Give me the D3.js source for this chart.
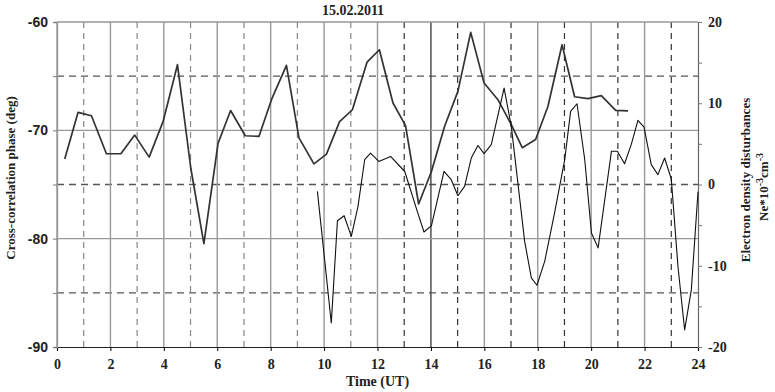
<!DOCTYPE html>
<html>
<head>
<meta charset="utf-8">
<script src="https://cdn.jsdelivr.net/npm/d3@7"></script>
<style>
body { margin: 0; background: #fff; }
text { font-family: "Liberation Serif", "Times New Roman", serif; font-weight: bold; }
</style>
</head>
<body>
<script>
// cross-correlation phase (left axis)
var phaseT = [0.29, 0.79, 1.29, 1.85, 2.39, 2.91, 3.45, 3.97, 4.51, 5.01, 5.5, 6.03, 6.5, 7.05, 7.56, 8.03, 8.59, 9.06, 9.62, 10.09, 10.58, 11.06, 11.61, 12.07, 12.58, 13.05, 13.54, 14.02, 14.51, 15.01, 15.49, 15.99, 16.51, 17.01, 17.42, 17.92, 18.38, 18.91, 19.38, 19.88, 20.38, 20.92, 21.38];
var phaseV = [-72.65, -68.34, -68.65, -72.16, -72.16, -70.44, -72.47, -69.2, -63.94, -73.5, -80.45, -71.2, -68.17, -70.5, -70.56, -67.17, -64.0, -70.7, -73.1, -72.2, -69.2, -68.1, -63.7, -62.56, -67.48, -69.57, -76.8, -73.8, -69.64, -66.4, -60.96, -65.63, -67.17, -69.48, -71.6, -70.85, -67.8, -62.1, -66.9, -67.08, -66.8, -68.16, -68.2];

// electron density disturbances (right axis)
var neT = [9.75, 10.27, 10.5, 10.75, 11.02, 11.27, 11.52, 11.74, 12.05, 12.49, 13.02, 13.49, 13.74, 14.02, 14.49, 14.76, 15.01, 15.26, 15.51, 15.76, 15.99, 16.26, 16.74, 17.01, 17.51, 17.76, 17.97, 18.26, 18.63, 19.01, 19.23, 19.47, 19.76, 20.01, 20.26, 20.76, 20.98, 21.25, 21.5, 21.75, 21.98, 22.25, 22.5, 22.75, 23.0, 23.25, 23.5, 23.75, 24.0];
var neV = [-0.85, -17.05, -4.46, -3.84, -6.38, -2.7, 3.05, 3.87, 2.84, 3.46, 1.6, -3.3, -5.85, -5.07, 1.62, 0.59, -1.38, -0.23, 3.26, 4.8, 3.8, 4.9, 11.87, 7.16, -7.0, -11.5, -12.4, -9.46, -3.5, 3.05, 9.0, 9.94, 3.05, -5.97, -7.8, 4.1, 4.1, 2.56, 4.9, 7.9, 7.07, 2.44, 1.21, 3.26, 0.68, -10.1, -17.9, -12.97, -0.9];

var xTicks = [0, 2, 4, 6, 8, 10, 12, 14, 16, 18, 20, 22, 24];
var leftTicks = [-90, -80, -70, -60];
var rightTicks = [-20, -10, 0, 10, 20];

var W = 775, H = 392;
var margin = {top: 22, right: 77, bottom: 45, left: 57};

var svg = d3.select("body").append("svg")
    .attr("width", W)
    .attr("height", H);

var x = d3.scaleLinear().domain([0, 24]).range([margin.left, W - margin.right]);
var yL = d3.scaleLinear().domain([-90, -60]).range([H - margin.bottom, margin.top]);
var yR = d3.scaleLinear().domain([-20, 20]).range([H - margin.bottom, margin.top]);

var grid = svg.append("g");

// dashed verticals at odd hours
grid.selectAll(".vd")
    .data(d3.range(1, 24, 2))
    .enter().append("line")
    .attr("x1", function(d) { return x(d); })
    .attr("x2", function(d) { return x(d); })
    .attr("y1", yL(-60))
    .attr("y2", yL(-90))
    .attr("stroke", function(d) { return d >= 13 ? "#333" : "#888"; })
    .attr("stroke-width", 1.2)
    .attr("stroke-dasharray", "6,5");

// dashed horizontals
grid.selectAll(".hd")
    .data([-65, -75, -85])
    .enter().append("line")
    .attr("x1", x(0))
    .attr("x2", x(24))
    .attr("y1", function(d) { return yL(d); })
    .attr("y2", function(d) { return yL(d); })
    .attr("stroke", "#555")
    .attr("stroke-width", 1.3)
    .attr("stroke-dasharray", "7,5");

// solid verticals at even hours
grid.selectAll(".vs")
    .data(xTicks.slice(0, 12))
    .enter().append("line")
    .attr("x1", function(d) { return x(d); })
    .attr("x2", function(d) { return x(d); })
    .attr("y1", yL(-60))
    .attr("y2", yL(-90))
    .attr("stroke", function(d) { return d == 14 ? "#444" : "#999"; })
    .attr("stroke-width", 1.4);

// solid horizontals
grid.selectAll(".hs")
    .data([-60, -70, -80])
    .enter().append("line")
    .attr("x1", x(0))
    .attr("x2", x(24))
    .attr("y1", function(d) { return yL(d); })
    .attr("y2", function(d) { return yL(d); })
    .attr("stroke", "#999")
    .attr("stroke-width", 1.4);

// axes
var ax = svg.append("g")
    .attr("transform", "translate(0," + yL(-90) + ")")
    .call(d3.axisBottom(x).tickValues(xTicks).tickSize(4).tickPadding(8));
ax.select(".domain").attr("stroke", "#222").attr("stroke-width", 1.2);
ax.selectAll("text").attr("font-size", 14).attr("fill", "#222");

var al = svg.append("g")
    .attr("transform", "translate(" + x(0) + ",0)")
    .call(d3.axisLeft(yL).tickValues([-90, -85, -80, -75, -70, -65, -60]).tickSize(4).tickPadding(5)
        .tickFormat(function(d) { return leftTicks.indexOf(d) >= 0 ? d : ""; }));
al.select(".domain").attr("stroke", "#999").attr("stroke-width", 1.4);
al.selectAll(".tick line").attr("stroke", "#777");
al.selectAll("text")
    .attr("font-size", 14)
    .attr("fill", "#222")
    .style("font-family", "'Liberation Sans', Arial, sans-serif");

var ar = svg.append("g")
    .attr("transform", "translate(" + x(24) + ",0)")
    .call(d3.axisRight(yR).tickValues([-20, -15, -10, -5, 0, 5, 10, 15, 20]).tickSize(4).tickPadding(6)
        .tickFormat(function(d) { return rightTicks.indexOf(d) >= 0 ? d : ""; }));
ar.select(".domain").attr("stroke", "#666").attr("stroke-width", 1.2);
ar.selectAll(".tick line").attr("stroke", "#777");
ar.selectAll("text").attr("font-size", 14).attr("fill", "#222");

// series
var linePhase = d3.line()
    .x(function(d, i) { return x(phaseT[i]); })
    .y(function(d) { return yL(d); });
var lineNe = d3.line()
    .x(function(d, i) { return x(neT[i]); })
    .y(function(d) { return yR(d); });

svg.append("path")
    .datum(phaseV)
    .attr("d", linePhase)
    .attr("fill", "none")
    .attr("stroke", "#333")
    .attr("stroke-width", 1.7)
    .attr("stroke-linejoin", "round");

svg.append("path")
    .datum(neV)
    .attr("d", lineNe)
    .attr("fill", "none")
    .attr("stroke", "#111")
    .attr("stroke-width", 1.1)
    .attr("stroke-linejoin", "round");

// titles
svg.append("text")
    .attr("x", 353).attr("y", 15)
    .attr("text-anchor", "middle")
    .attr("font-size", 14)
    .attr("fill", "#222")
    .text("15.02.2011");

svg.append("text")
    .attr("x", x(12)).attr("y", 386)
    .attr("text-anchor", "middle")
    .attr("font-size", 14)
    .attr("fill", "#222")
    .text("Time (UT)");

svg.append("text")
    .attr("transform", "translate(15,178) rotate(-90)")
    .attr("text-anchor", "middle")
    .attr("font-size", 13)
    .attr("fill", "#222")
    .text("Cross-correlation phase (deg)");

svg.append("text")
    .attr("transform", "translate(750,180) rotate(-90)")
    .attr("text-anchor", "middle")
    .attr("font-size", 13)
    .attr("fill", "#222")
    .text("Electron density disturbances");

var t2 = svg.append("text")
    .attr("transform", "translate(768,187) rotate(-90)")
    .attr("text-anchor", "middle")
    .attr("font-size", 13)
    .attr("fill", "#222");
t2.append("tspan").text("Ne*10");
t2.append("tspan").attr("dy", -5).attr("font-size", 10).text("-3");
t2.append("tspan").attr("dy", 5).text("cm");
t2.append("tspan").attr("dy", -5).attr("font-size", 10).text("-3");
</script>
</body>
</html>
